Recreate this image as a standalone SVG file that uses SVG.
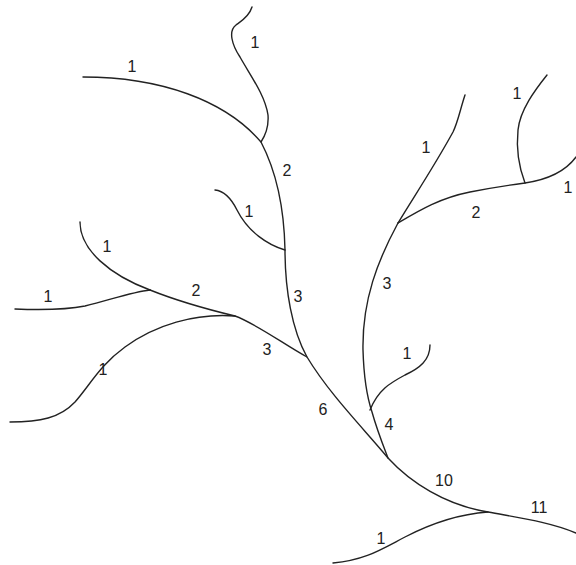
<svg xmlns="http://www.w3.org/2000/svg" width="576" height="565" viewBox="0 0 576 565">
<style>
.s{fill:none;stroke:#222;stroke-width:1.4;stroke-linecap:round}
.l{font-family:"Liberation Sans",Arial,sans-serif;font-size:16px;fill:#222;text-anchor:middle}
</style>
<rect width="576" height="565" fill="#fff"/>
<g id="streams">
<path class="s" d="M83,77 C160,77 225,100 261,142 C273,165 284,200 285,250 C285,290 292,330 307,357 C330,395 365,430 388,458 C410,482 445,505 488,512 C520,518 550,522 576,533"/>
<path class="s" d="M252,7 C249,17 240,22 236,25 C228,31 232,45 240,57 C250,75 265,95 268,115 C269,128 265,136 261,142"/>
<path class="s" d="M215,190 C225,191 232,200 237,210 C248,232 268,245 285,250"/>
<path class="s" d="M80,222 C80,250 110,275 150,290"/>
<path class="s" d="M15,309 C40,310 65,310 85,306 C110,300 132,292 150,290"/>
<path class="s" d="M150,290 C180,302 210,310 235,316 C255,323 285,345 307,357"/>
<path class="s" d="M10,422 C40,422 60,418 75,402 C90,385 100,365 125,347 C155,325 195,313 235,316"/>
<path class="s" d="M398,223 C378,260 362,300 363,350 C364,385 368,400 372,412 C377,430 383,445 388,458"/>
<path class="s" d="M465,95 C460,110 458,122 453,132 C435,165 415,195 398,223"/>
<path class="s" d="M398,223 C420,210 440,198 470,192 C490,188 510,185 525,183 C545,180 565,172 576,157"/>
<path class="s" d="M547,75 C535,90 520,110 518,130 C516,150 520,170 525,183"/>
<path class="s" d="M430,345 C430,360 420,368 405,375 C390,383 378,390 370,410"/>
<path class="s" d="M333,563 C365,560 380,550 405,537 C430,524 460,514 488,512"/>
</g>
<g id="labels">
<text class="l" x="255" y="48">1</text>
<text class="l" x="132" y="72">1</text>
<text class="l" x="287" y="176">2</text>
<text class="l" x="249" y="217">1</text>
<text class="l" x="107" y="252">1</text>
<text class="l" x="48" y="302">1</text>
<text class="l" x="196" y="296">2</text>
<text class="l" x="298" y="302">3</text>
<text class="l" x="267" y="355">3</text>
<text class="l" x="103" y="375">1</text>
<text class="l" x="323" y="415">6</text>
<text class="l" x="426" y="153">1</text>
<text class="l" x="517" y="99">1</text>
<text class="l" x="476" y="218">2</text>
<text class="l" x="568" y="193">1</text>
<text class="l" x="387" y="289">3</text>
<text class="l" x="407" y="359">1</text>
<text class="l" x="389" y="430">4</text>
<text class="l" x="444" y="486">10</text>
<text class="l" x="539" y="513">11</text>
<text class="l" x="381" y="544">1</text>
</g>
</svg>
